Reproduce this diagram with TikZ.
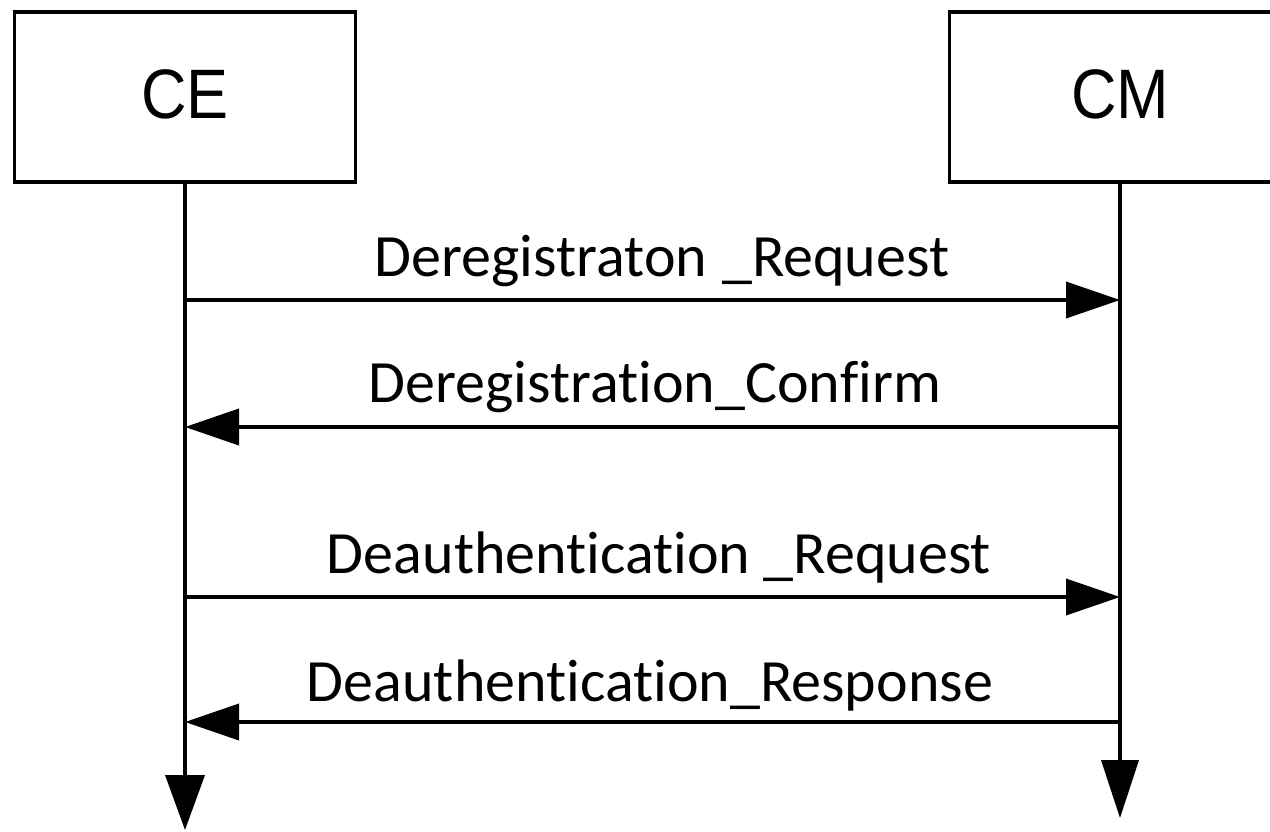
\documentclass[tikz,border=0pt]{standalone}
\usepackage{fontspec}
\setmainfont[Ligatures={NoCommon}]{Carlito}
\newfontfamily\boxfont[FakeStretch=0.9]{Liberation Sans}
\usetikzlibrary{arrows.meta}
\begin{document}
\begin{tikzpicture}[x=1pt,y=-1pt,
  actor/.style={draw,line width=3.8pt,rectangle,minimum width=341pt,minimum height=170pt,inner sep=0pt,text height=50pt,text depth=8pt,font=\boxfont\fontsize{70}{80}\selectfont},
  msg/.style={line width=3.8pt,-{Triangle[length=54pt,width=36pt]}},
  life/.style={line width=3.8pt},
  lbl/.style={anchor=base,inner sep=0pt,font=\fontsize{60}{70}\selectfont}]
\useasboundingbox (0,0) rectangle (1270,831);
\clip (0,0) rectangle (1270,831);
\fill[white] (0,0) rectangle (1270,831);
\node[actor] (ce) at (185,97) {CE};
\node[actor] (cm) at (1120,97) {CM};
\coordinate (ceend) at (185,830);
\coordinate (cmend) at (1120,818);
\draw[life,-{Triangle[length=55pt,width=39pt]}] (ce.south) -- (ceend);
\draw[life,-{Triangle[length=58pt,width=37pt]}] (cm.south) -- (cmend);
\coordinate (a1) at (185,300); \coordinate (b1) at (1120,300);
\coordinate (a2) at (185,427); \coordinate (b2) at (1120,427);
\coordinate (a3) at (185,597); \coordinate (b3) at (1120,597);
\coordinate (a4) at (185,722); \coordinate (b4) at (1120,722);
\draw[msg] (a1) -- (b1);
\draw[msg] (b2) -- (a2);
\draw[msg] (a3) -- (b3);
\draw[msg] (b4) -- (a4);
\node[lbl] (l1) at (662,276) {Deregistraton\hspace{1.5pt} \_Request};
\node[lbl] (l2) at (655,402) {Deregistration\_Confirm};
\node[lbl] (l3) at (659,573) {Deauthentication \_Request};
\node[lbl] (l4) at (650,701) {Deauthentication\_Response};
\end{tikzpicture}
\end{document}
